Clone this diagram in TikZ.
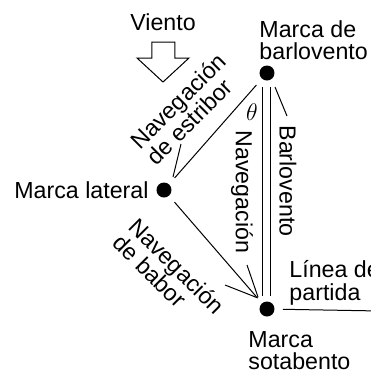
\documentclass[tikz,border=0pt]{standalone}
\usepackage{fontspec}
\setmainfont{Liberation Sans}

\begin{document}
\begin{tikzpicture}[x=0.5pt,y=-0.5pt,line width=0.5pt,
  every node/.style={font=\fontsize{11.6}{11.25}\selectfont,inner sep=0pt}]
   \useasboundingbox (0,0) rectangle (371,371);
   \begin{scope}[every node/.style={circle,fill=black,minimum size=7.5pt,inner sep=0pt,outer sep=4.25pt}]
    \node (wm) at (267,73) {};
    \node (lm) at (164,190) {};
    \node (lw) at (267,309) {};
   \end{scope}
   \node (viento) at (163,22) {Viento};
   \node[anchor=north west,align=left] (wmlabel) at (259,20) {Marca de\\barlovento};
   \node[anchor=east] (lmlabel) at (149,190) {Marca lateral};
   \node[anchor=north west,align=left] (lwlabel) at (248,331) {Marca\\sotabento};
   \node[anchor=north west,align=left] (startlabel) at (289,260) {Línea de\\partida};
   \node[rotate=-90] (nav) at (242,192) {Navegación};
   \node[rotate=-90] (barl) at (288,181) {Barlovento};
   \node[rotate=45,align=left] (estr) at (186,109) {Navegación\\de estribor};
   \node[rotate=-45,align=left] (babor) at (169,274) {Navegación\\de babor};
   \node (theta) at (252,112) {$\theta$};
   \coordinate (pd) at (380,311);
   \coordinate (estr-a) at (181,144);
   \coordinate (estr-b) at (173,177);
   \coordinate (barl-a) at (275,87);
   \coordinate (barl-b) at (287,116);
   \coordinate (nav-a) at (247,265);
   \coordinate (nav-b) at (258,297);
   \coordinate (babor-a) at (225,285);
   \coordinate (babor-b) at (258,298);
   % wind arrow
   \draw (152,42) -- (175,42) -- (175,58) -- (189,58) -- (163,82) -- (137,58) -- (152,58) -- cycle;
   \begin{scope}[every edge/.style={draw=black}]
    \draw (wm) edge (lm);
    \draw (lm) edge (lw);
    \draw (wm) edge[double,double distance=3.5pt,shorten <=-1pt,shorten >=-1.5pt] (lw);
    \draw (lw) edge (pd);
    \draw (estr-a) edge (estr-b);
    \draw (barl-a) edge (barl-b);
    \draw (nav-a) edge (nav-b);
    \draw (babor-a) edge (babor-b);
   \end{scope}
\end{tikzpicture}
\end{document}
